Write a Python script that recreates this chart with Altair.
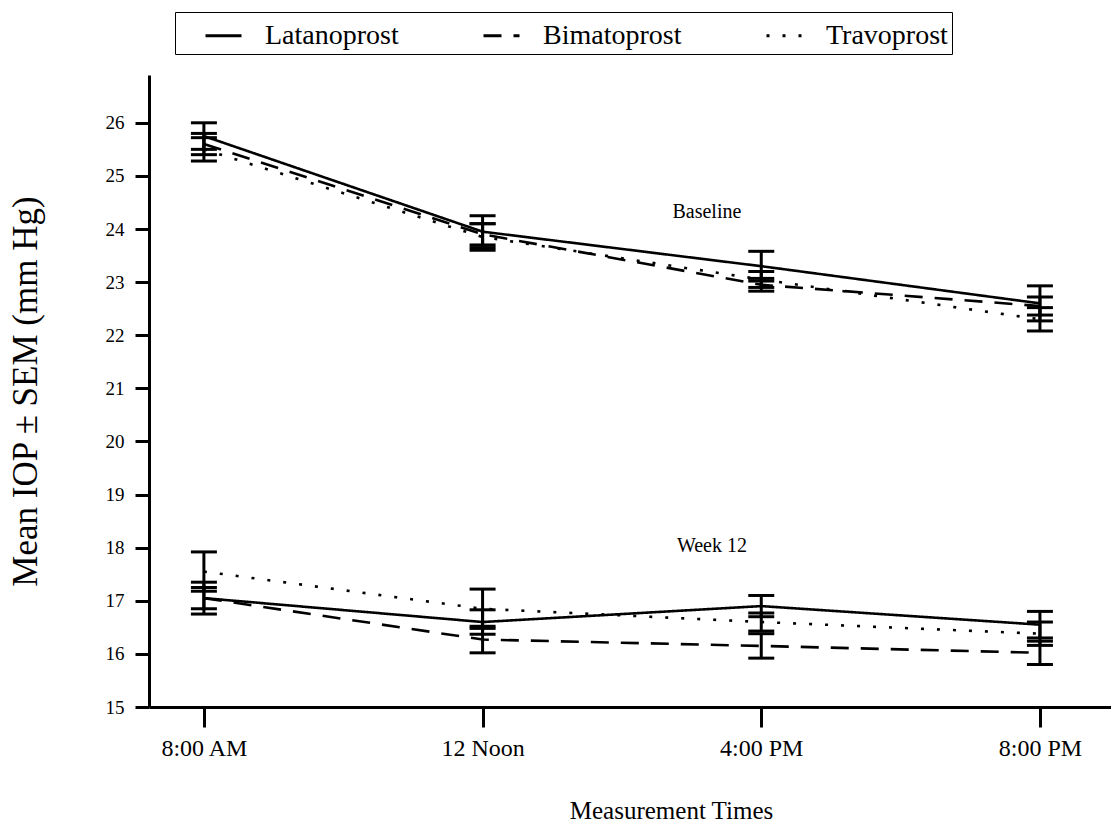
import json
import altair as alt
import pandas as pd

times = ["8:00 AM", "12 Noon", "4:00 PM", "8:00 PM"]
drugs = ["Latanoprost", "Bimatoprost", "Travoprost"]

# Baseline means and SEM
lat_base = [25.75, 23.95, 23.30, 22.60]
lat_base_sem = [0.25, 0.30, 0.28, 0.33]
bim_base = [25.60, 23.90, 22.95, 22.55]
bim_base_sem = [0.20, 0.20, 0.12, 0.17]
trav_base = [25.50, 23.85, 23.05, 22.30]
trav_base_sem = [0.22, 0.25, 0.15, 0.22]

# Week 12 means and SEM
lat_w12 = [17.05, 16.60, 16.90, 16.55]
lat_w12_sem = [0.30, 0.23, 0.20, 0.25]
bim_w12 = [17.05, 16.27, 16.15, 16.02]
bim_w12_sem = [0.20, 0.25, 0.23, 0.22]
trav_w12 = [17.55, 16.85, 16.60, 16.38]
trav_w12_sem = [0.37, 0.37, 0.17, 0.22]

ann_text = ["Baseline", "Week 12"]
ann_x = [1.805, 1.823]
ann_y = [24.32, 18.03]

series = [
    ("Latanoprost", "Baseline", lat_base, lat_base_sem),
    ("Bimatoprost", "Baseline", bim_base, bim_base_sem),
    ("Travoprost", "Baseline", trav_base, trav_base_sem),
    ("Latanoprost", "Week 12", lat_w12, lat_w12_sem),
    ("Bimatoprost", "Week 12", bim_w12, bim_w12_sem),
    ("Travoprost", "Week 12", trav_w12, trav_w12_sem),
]
rows = []
for drug, period, means, sems in series:
    for i, (m, s) in enumerate(zip(means, sems)):
        rows.append({"x": i, "time": times[i], "drug": drug, "period": period,
                     "mean": m, "lo": m - s, "hi": m + s})
df = pd.DataFrame(rows)
ann = pd.DataFrame({"text": ann_text, "x": ann_x, "y": ann_y})

FONT = "Liberation Serif"

xscale = alt.Scale(domain=[-0.197, 3.255], nice=False, zero=False)
yscale = alt.Scale(domain=[15, 26.9], nice=False, zero=False)

axis_style = dict(domainColor="black", domainWidth=3, tickColor="black", tickWidth=3,
                  labelFont=FONT, titleFont=FONT, labelColor="black",
                  titleColor="black", titleFontWeight="normal", grid=False)

label_expr = json.dumps(times) + "[datum.value]"
xenc = alt.X("x:Q", scale=xscale,
             axis=alt.Axis(values=[0, 1, 2, 3], labelExpr=label_expr,
                           title="Measurement Times", tickSize=20,
                           labelFontSize=24, labelPadding=9,
                           titleFontSize=25, titlePadding=38, titleX=522,
                           **axis_style))
yenc = alt.Y("mean:Q", scale=yscale,
             axis=alt.Axis(values=list(range(15, 27)), title="Mean IOP ± SEM (mm Hg)",
                           tickSize=14, labelFontSize=19, labelPadding=11,
                           titleFontSize=35, titlePadding=62, **axis_style))

base = alt.Chart(df)

lines = base.mark_line(color="black", strokeWidth=2.6).encode(
    x=xenc, y=yenc,
    strokeDash=alt.StrokeDash(
        "drug:N",
        scale=alt.Scale(domain=drugs, range=[[1, 0], [18, 12], [3, 13]]),
        sort=drugs,
        legend=alt.Legend(title=None, orient="none", legendX=26, legendY=-63,
                          direction="horizontal", strokeColor="black",
                          padding=4, symbolOffset=25,
                          symbolType="stroke", symbolSize=1296,
                          symbolStrokeWidth=3, symbolStrokeColor="black",
                          labelFont=FONT, labelFontSize=28, labelColor="black",
                          labelOffset=22, columnPadding=58, labelLimit=400),
    ),
    detail="period:N",
)

rules = base.mark_rule(color="black", strokeWidth=3).encode(
    x="x:Q", y="lo:Q", y2="hi:Q")
cap_hi = base.mark_tick(color="black", opacity=1, orient="horizontal", size=26,
                        thickness=3).encode(x="x:Q", y="hi:Q")
cap_lo = base.mark_tick(color="black", opacity=1, orient="horizontal", size=26,
                        thickness=3).encode(x="x:Q", y="lo:Q")

texts = alt.Chart(ann).mark_text(font=FONT, fontSize=20, color="black").encode(
    x="x:Q", y="y:Q", text="text:N")

chart = alt.layer(lines, rules, cap_hi, cap_lo, texts).properties(
    width=962, height=632,
    background="white",
    autosize=alt.AutoSizeParams(type="none"),
    padding={"left": 149, "top": 75, "right": 0, "bottom": 120},
).configure_view(stroke=None)

chart.save("out.html", embed_options={"renderer": "svg", "actions": False})
